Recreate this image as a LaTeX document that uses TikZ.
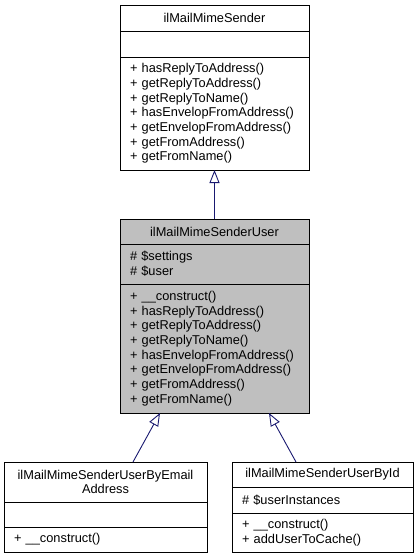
\documentclass[tikz,border=0pt]{standalone}
\usepackage{fontspec}
\setmainfont{Liberation Sans}
\usetikzlibrary{positioning,arrows.meta}
\definecolor{edgeblue}{HTML}{191970}
\definecolor{umlgray}{HTML}{BFBFBF}

\begin{document}
\begin{tikzpicture}[x=1pt,y=-1pt,
		every node/.style={font=\fontsize{12.8}{14.7}\selectfont},
		part/.style={shape=rectangle,draw=black,line width=0.9pt,outer sep=0pt,
			inner xsep=10pt,inner ysep=1pt,text width=#1,align=left},
		head/.style={part=#1,align=center}]
		\useasboundingbox (0,0) rectangle (418,559);

		\node[head=169pt,minimum height=26pt,anchor=north] (sender) at (214.5,5) {ilMailMimeSender};
		\node[part=169pt,minimum height=26pt,below=0pt of sender] (senderattr) {};
		\node[part=169pt,minimum height=113pt,below=0pt of senderattr] (senderops) {+ hasReplyToAddress()\\+ getReplyToAddress()\\+ getReplyToName()\\+ hasEnvelopFromAddress()\\+ getEnvelopFromAddress()\\+ getFromAddress()\\+ getFromName()};

		\node[head=169pt,fill=umlgray,minimum height=25pt,anchor=north] (user) at (214.5,219) {ilMailMimeSenderUser};
		\node[part=169pt,fill=umlgray,minimum height=40pt,below=0pt of user] (userattr) {\# \$settings\\\# \$user};
		\node[part=169pt,fill=umlgray,minimum height=129pt,below=0pt of userattr] (userops) {+ \_\_construct()\\+ hasReplyToAddress()\\+ getReplyToAddress()\\+ getReplyToName()\\+ hasEnvelopFromAddress()\\+ getEnvelopFromAddress()\\+ getFromAddress()\\+ getFromName()};

		\node[head=183pt,minimum height=40pt,anchor=north] (byemail) at (105.5,462) {ilMailMimeSenderUserByEmail\\Address};
		\node[part=183pt,minimum height=25pt,below=0pt of byemail] (byemailattr) {};
		\node[part=183pt,minimum height=25pt,below=0pt of byemailattr] (byemailops) {+ \_\_construct()};

		\node[head=161pt,minimum height=25pt,anchor=north] (byid) at (322.5,462) {ilMailMimeSenderUserById};
		\node[part=161pt,minimum height=26pt,below=0pt of byid] (byidattr) {\# \$userInstances};
		\node[part=161pt,minimum height=39pt,below=0pt of byidattr] (byidops) {+ \_\_construct()\\+ addUserToCache()};

		\begin{scope}[>={Triangle[open,length=13pt,width=10pt]},
			every edge/.style={draw=edgeblue,line width=0.9pt}]

			\path [->] (user) edge (senderops);
			\path [->] ([xshift=27.5pt]byemail.north) edge ([xshift=-54.5pt]userops.south);
			\path [->] ([xshift=-26.5pt]byid.north) edge ([xshift=54.5pt]userops.south);

		\end{scope}

	\end{tikzpicture}
\end{document}
